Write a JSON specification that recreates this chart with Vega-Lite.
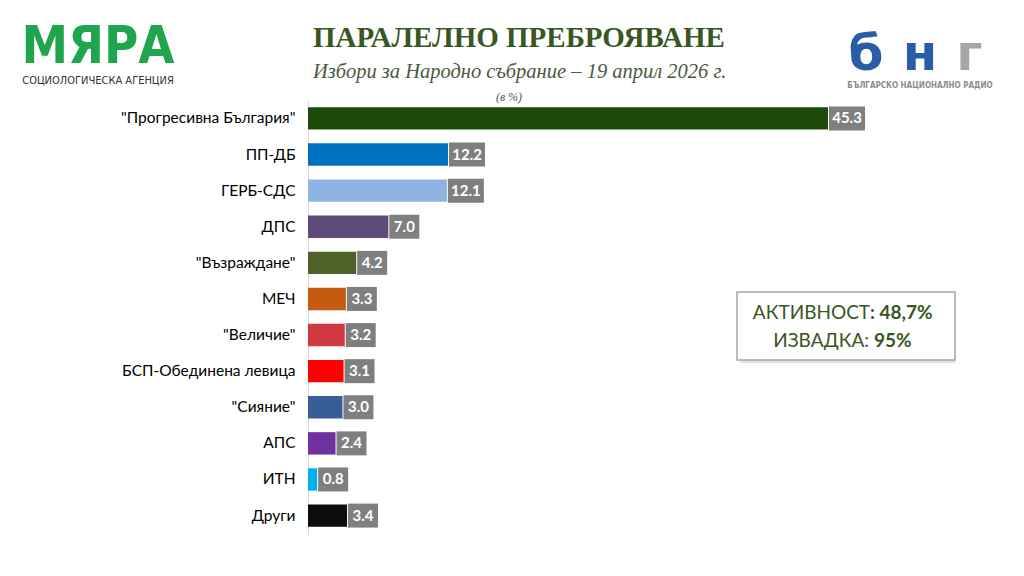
{
  "$schema": "https://vega.github.io/schema/vega-lite/v6.json",
  "width": 716,
  "height": 434,
  "autosize": "none",
  "padding": {"left": 308, "top": 100, "right": 0, "bottom": 42},
  "background": "white",
  "config": {"view": {"stroke": null}},
  "data": {
    "values": [
      {"party": "\"Прогресивна България\"", "value": 45.3},
      {"party": "ПП-ДБ", "value": 12.2},
      {"party": "ГЕРБ-СДС", "value": 12.1},
      {"party": "ДПС", "value": 7.0},
      {"party": "\"Възраждане\"", "value": 4.2},
      {"party": "МЕЧ", "value": 3.3},
      {"party": "\"Величие\"", "value": 3.2},
      {"party": "БСП-Обединена левица", "value": 3.1},
      {"party": "\"Сияние\"", "value": 3.0},
      {"party": "АПС", "value": 2.4},
      {"party": "ИТН", "value": 0.8},
      {"party": "Други", "value": 3.4}
    ]
  },
  "encoding": {
    "y": {
      "field": "party",
      "type": "nominal",
      "scale": {
        "domain": ["\"Прогресивна България\"", "ПП-ДБ", "ГЕРБ-СДС", "ДПС", "\"Възраждане\"", "МЕЧ", "\"Величие\"", "БСП-Обединена левица", "\"Сияние\"", "АПС", "ИТН", "Други"],
        "paddingInner": 0.38,
        "paddingOuter": 0.2
      },
      "axis": {
        "title": null,
        "ticks": false,
        "labelPadding": 13,
        "labelFontSize": 15.5,
        "labelFont": "Lato",
        "labelColor": "#000000",
        "domainColor": "#d9d9d9",
        "labelLimit": 300
      }
    }
  },
  "layer": [
    {
      "mark": {"type": "bar"},
      "encoding": {
        "x": {"field": "value", "type": "quantitative", "scale": {"domain": [0, 62.37], "nice": false}, "axis": null},
        "color": {
          "field": "party",
          "type": "nominal",
          "legend": null,
          "scale": {
            "domain": ["\"Прогресивна България\"", "ПП-ДБ", "ГЕРБ-СДС", "ДПС", "\"Възраждане\"", "МЕЧ", "\"Величие\"", "БСП-Обединена левица", "\"Сияние\"", "АПС", "ИТН", "Други"],
            "range": ["#1c4a0a", "#0070c0", "#8eb4e3", "#604a7b", "#4f6228", "#c55a11", "#d0393f", "#ff0000", "#395d96", "#7030a0", "#00b0f0", "#0d0d0d"]
          }
        }
      }
    },
    {
      "transform": [{"filter": "datum.value >= 10"}],
      "mark": {"type": "point", "shape": "M0.08,-1H3.08V1H0.08Z", "size": 576, "filled": true, "color": "#7f7f7f", "opacity": 1},
      "encoding": {"x": {"field": "value", "type": "quantitative"}}
    },
    {
      "transform": [{"filter": "datum.value < 10"}],
      "mark": {"type": "point", "shape": "M0.08,-1H2.58V1H0.08Z", "size": 576, "filled": true, "color": "#7f7f7f", "opacity": 1},
      "encoding": {"x": {"field": "value", "type": "quantitative"}}
    },
    {
      "transform": [{"filter": "datum.value >= 10"}],
      "mark": {"type": "text", "align": "center", "baseline": "middle", "dx": 19, "font": "Lato", "fontSize": 15, "fontWeight": "bold", "color": "white"},
      "encoding": {"x": {"field": "value", "type": "quantitative"}, "text": {"field": "value", "type": "quantitative", "format": ".1f"}}
    },
    {
      "transform": [{"filter": "datum.value < 10"}],
      "mark": {"type": "text", "align": "center", "baseline": "middle", "dx": 16, "font": "Lato", "fontSize": 15, "fontWeight": "bold", "color": "white"},
      "encoding": {"x": {"field": "value", "type": "quantitative"}, "text": {"field": "value", "type": "quantitative", "format": ".1f"}}
    },
    {
      "data": {"values": [{}]},
      "mark": {"type": "bar", "height": 68, "yOffset": -6, "xOffset": 3, "fill": "#e3e3e3", "stroke": null},
      "encoding": {"x": {"datum": 37.37, "type": "quantitative"}, "x2": {"datum": 56.36}, "y": {"datum": "\"Величие\"", "type": "nominal"}}
    },
    {
      "data": {"values": [{}]},
      "mark": {"type": "bar", "height": 68, "yOffset": -9, "fill": "white", "stroke": "#a6a6a6", "strokeWidth": 1.5},
      "encoding": {"x": {"datum": 37.37, "type": "quantitative"}, "x2": {"datum": 56.36}, "y": {"datum": "\"Величие\"", "type": "nominal"}}
    },
    {
      "data": {"values": [{}]},
      "mark": {"type": "text", "text": "АКТИВНОСТ", "align": "right", "baseline": "middle", "yOffset": 14, "font": "Lato", "fontSize": 19, "color": "#385723"},
      "encoding": {"x": {"datum": 48.96, "type": "quantitative"}, "y": {"datum": "МЕЧ", "type": "nominal"}}
    },
    {
      "data": {"values": [{}]},
      "mark": {"type": "text", "text": ": 48,7%", "align": "left", "baseline": "middle", "yOffset": 14, "font": "Lato", "fontSize": 19, "fontWeight": "bold", "color": "#385723"},
      "encoding": {"x": {"datum": 48.96, "type": "quantitative"}, "y": {"datum": "МЕЧ", "type": "nominal"}}
    },
    {
      "data": {"values": [{}]},
      "mark": {"type": "text", "text": "ИЗВАДКА:", "align": "right", "baseline": "middle", "yOffset": 6, "font": "Lato", "fontSize": 19, "color": "#385723"},
      "encoding": {"x": {"datum": 48.87, "type": "quantitative"}, "y": {"datum": "\"Величие\"", "type": "nominal"}}
    },
    {
      "data": {"values": [{}]},
      "mark": {"type": "text", "text": "95%", "align": "left", "baseline": "middle", "yOffset": 6, "dx": 5, "font": "Lato", "fontSize": 19, "fontWeight": "bold", "color": "#385723"},
      "encoding": {"x": {"datum": 48.87, "type": "quantitative"}, "y": {"datum": "\"Величие\"", "type": "nominal"}}
    },
    {
      "data": {"values": [{}]},
      "mark": {"type": "text", "text": "ПАРАЛЕЛНО ПРЕБРОЯВАНЕ", "align": "left", "baseline": "middle", "yOffset": -80, "font": "Liberation Serif", "fontSize": 29, "fontWeight": "bold", "color": "#385723"},
      "encoding": {"x": {"datum": 0.44, "type": "quantitative"}, "y": {"datum": "\"Прогресивна България\"", "type": "nominal"}}
    },
    {
      "data": {"values": [{}]},
      "mark": {"type": "text", "text": "Избори за Народно събрание – 19 април 2026 г.", "align": "left", "baseline": "middle", "yOffset": -46, "font": "Liberation Serif", "fontStyle": "italic", "fontSize": 20.5, "color": "#4b5a3c"},
      "encoding": {"x": {"datum": 0.44, "type": "quantitative"}, "y": {"datum": "\"Прогресивна България\"", "type": "nominal"}}
    },
    {
      "data": {"values": [{}]},
      "mark": {"type": "text", "text": "(в %)", "align": "center", "baseline": "middle", "yOffset": -21, "font": "Liberation Serif", "fontStyle": "italic", "fontSize": 12, "color": "#555555"},
      "encoding": {"x": {"datum": 17.51, "type": "quantitative"}, "y": {"datum": "\"Прогресивна България\"", "type": "nominal"}}
    },
    {
      "data": {"values": [{}]},
      "mark": {"type": "text", "text": "МЯРА", "align": "center", "baseline": "middle", "yOffset": -71, "font": "DejaVu Sans Condensed", "fontSize": 52, "fontWeight": "bold", "color": "#1fa54d"},
      "encoding": {"x": {"datum": -18.29, "type": "quantitative"}, "y": {"datum": "\"Прогресивна България\"", "type": "nominal"}}
    },
    {
      "data": {"values": [{}]},
      "mark": {"type": "text", "text": "СОЦИОЛОГИЧЕСКА АГЕНЦИЯ", "align": "center", "baseline": "middle", "yOffset": -37, "font": "DejaVu Sans Condensed", "fontSize": 11, "color": "#333333"},
      "encoding": {"x": {"datum": -18.29, "type": "quantitative"}, "y": {"datum": "\"Прогресивна България\"", "type": "nominal"}}
    },
    {
      "data": {"values": [{}]},
      "mark": {"type": "text", "text": "б", "align": "center", "baseline": "bottom", "yOffset": -38, "font": "DejaVu Sans", "fontSize": 50, "fontWeight": "bold", "color": "#2a5ca8"},
      "encoding": {"x": {"datum": 48.61, "type": "quantitative"}, "y": {"datum": "\"Прогресивна България\"", "type": "nominal"}}
    },
    {
      "data": {"values": [{}]},
      "mark": {"type": "text", "text": "н", "align": "center", "baseline": "bottom", "yOffset": -38, "font": "DejaVu Sans", "fontSize": 50, "fontWeight": "bold", "color": "#2a5ca8"},
      "encoding": {"x": {"datum": 53.32, "type": "quantitative"}, "y": {"datum": "\"Прогресивна България\"", "type": "nominal"}}
    },
    {
      "data": {"values": [{}]},
      "mark": {"type": "text", "text": "г", "align": "center", "baseline": "bottom", "yOffset": -38, "font": "DejaVu Sans", "fontSize": 50, "fontWeight": "bold", "color": "#a6a6a6"},
      "encoding": {"x": {"datum": 57.6, "type": "quantitative"}, "y": {"datum": "\"Прогресивна България\"", "type": "nominal"}}
    },
    {
      "data": {"values": [{}]},
      "mark": {"type": "text", "text": "БЪЛГАРСКО НАЦИОНАЛНО РАДИО", "align": "center", "baseline": "middle", "yOffset": -32, "font": "DejaVu Sans Condensed", "fontSize": 8, "fontWeight": "bold", "color": "#8c8c8c"},
      "encoding": {"x": {"datum": 53.3, "type": "quantitative"}, "y": {"datum": "\"Прогресивна България\"", "type": "nominal"}}
    }
  ]
}
